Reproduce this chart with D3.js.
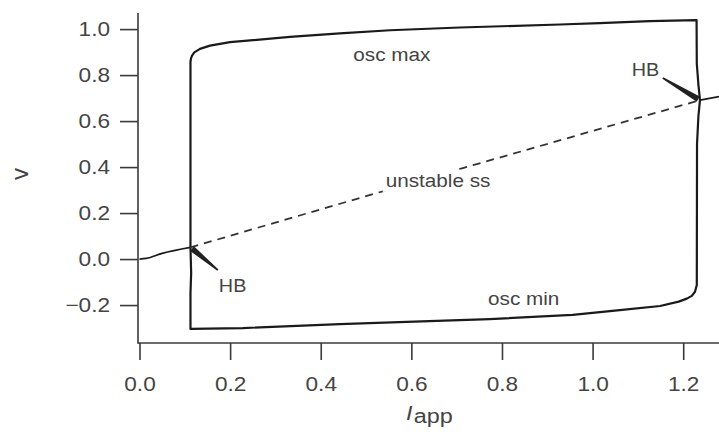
<!DOCTYPE html>
<html>
<head>
<meta charset="utf-8">
<script src="https://cdn.jsdelivr.net/npm/d3@7"></script>
<style>
  html, body { margin: 0; padding: 0; background: #fff; }
  svg { display: block; }
  text { font-family: "Liberation Sans", Arial, Helvetica, sans-serif; }
</style>
</head>
<body>
<svg id="chart" width="719" height="432"></svg>
<script>
// ---- data ----
const xTicks = [0.0, 0.2, 0.4, 0.6, 0.8, 1.0, 1.2];
const yTicks = [-0.2, 0.0, 0.2, 0.4, 0.6, 0.8, 1.0];

// osc max branch: left HB -> up -> across top -> down to right HB
const oscMaxI = [0.1125, 0.1125, 0.1125, 0.1135, 0.116, 0.121, 0.1335, 0.1556, 0.1997, 0.332, 0.442, 0.553, 0.707, 0.928, 1.016, 1.126, 1.2295, 1.2300, 1.2335, 1.237];
const oscMaxV = [0.051, 0.5, 0.857, 0.872, 0.885, 0.899, 0.914, 0.928, 0.943, 0.966, 0.981, 0.995, 1.007, 1.020, 1.026, 1.035, 1.039, 0.85, 0.76, 0.691];

// osc min branch: left HB -> down -> across bottom -> up to right HB
const oscMinI = [0.1125, 0.1140, 0.1125, 0.1125, 0.228, 0.442, 0.59, 0.773, 0.956, 1.06, 1.149, 1.190, 1.208, 1.219, 1.226, 1.230, 1.2305, 1.2335, 1.237];
const oscMinV = [0.051, -0.06, -0.15, -0.304, -0.300, -0.283, -0.273, -0.261, -0.243, -0.222, -0.204, -0.185, -0.172, -0.160, -0.142, -0.113, 0.5, 0.62, 0.691];

// stable steady state (solid) and unstable steady state (dashed)
const stableLeftI = [0.0, 0.015, 0.05, 0.1125];
const stableLeftV = [0.0, 0.003, 0.025, 0.051];
const unstableI = [0.1125, 0.52, 0.736, 1.237];
const unstableV = [0.051, 0.285, 0.408, 0.691];
const stableRightI = [1.237, 1.279];
const stableRightV = [0.691, 0.706];

// Hopf bifurcation points and their pointer tails
const hbI = [0.1125, 1.237];
const hbV = [0.051, 0.691];
const hbTailI = [0.173, 1.155];
const hbTailV = [-0.048, 0.787];
const hbLabels = ["HB", "HB"];

// text annotations
const noteText = ["osc max", "unstable ss", "osc min"];
const noteI = [0.557, 0.659, 0.848];
const noteV = [0.861, 0.314, -0.200];

// ---- layout ----
const svg = d3.select("#chart");
const x = d3.scaleLinear().domain([0, 1.279]).range([139.5, 719]);
const y = d3.scaleLinear().domain([-0.365, 1.07]).range([343, 13]);

const axisColor = "#3a3a3a";
const textColor = "#444";
const lineColor = "#1a1a1a";

// horizontal stretch of text (the reference lettering is slightly wide)
function stretch(sel, k) {
  sel.each(function () {
    const w = this.getComputedTextLength();
    d3.select(this).attr("textLength", w * k).attr("lengthAdjust", "spacingAndGlyphs");
  });
}

// axes lines
svg.append("line").attr("x1", x(0) - 1.5).attr("x2", 719).attr("y1", y(-0.365)).attr("y2", y(-0.365))
  .attr("stroke", axisColor).attr("stroke-width", 1.6);
svg.append("line").attr("x1", x(0) - 1.5).attr("x2", x(0) - 1.5).attr("y1", y(1.07)).attr("y2", y(-0.365) + 0.8)
  .attr("stroke", axisColor).attr("stroke-width", 1.6);

// x axis
const xAxis = d3.axisBottom(x).tickValues(xTicks).tickSize(17).tickSizeOuter(0).tickPadding(17)
  .tickFormat(d3.format(".1f"));
const gx = svg.append("g").attr("transform", `translate(0,${y(-0.365)})`).call(xAxis);
gx.select(".domain").remove();
gx.selectAll(".tick line").attr("stroke", axisColor).attr("stroke-width", 1.6);
gx.selectAll(".tick text").attr("fill", textColor).style("font-size", "20px").call(stretch, 1.13);

// y axis
const yAxis = d3.axisLeft(y).tickValues(yTicks).tickSize(18).tickSizeOuter(0).tickPadding(10)
  .tickFormat(d => d3.format(".1f")(d).replace("-", "\u2212"));
const gy = svg.append("g").attr("transform", `translate(${x(0) - 1.5},0)`).call(yAxis);
gy.select(".domain").remove();
gy.selectAll(".tick line").attr("stroke", axisColor).attr("stroke-width", 1.6);
gy.selectAll(".tick text").attr("fill", textColor).style("font-size", "20px").call(stretch, 1.13);

// axis titles
const xt = svg.append("text").attr("x", 406).attr("y", 420).attr("fill", textColor).style("font-size", "20px");
xt.append("tspan").text("I").style("font-style", "italic");
xt.append("tspan").text("app").attr("dy", 2.5).attr("dx", 1);
xt.call(stretch, 1.2);
svg.append("text").attr("transform", "translate(28,174) rotate(-90)").attr("text-anchor", "middle")
  .attr("fill", textColor).style("font-size", "24px").text("v");

// curves
const line = d3.line().x(d => x(d[0])).y(d => y(d[1]));
const zip = (a, b) => a.map((v, i) => [v, b[i]]);

svg.append("path").datum(zip(oscMaxI, oscMaxV)).attr("d", line)
  .attr("fill", "none").attr("stroke", lineColor).attr("stroke-width", 2.2).attr("stroke-linejoin", "round");
svg.append("path").datum(zip(oscMinI, oscMinV)).attr("d", line)
  .attr("fill", "none").attr("stroke", lineColor).attr("stroke-width", 2.2).attr("stroke-linejoin", "round");
svg.append("path").datum(zip(stableLeftI, stableLeftV))
  .attr("d", d3.line().x(d => x(d[0])).y(d => y(d[1])).curve(d3.curveMonotoneX))
  .attr("fill", "none").attr("stroke", lineColor).attr("stroke-width", 1.8);
svg.append("path").datum(zip(stableRightI, stableRightV)).attr("d", line)
  .attr("fill", "none").attr("stroke", lineColor).attr("stroke-width", 1.8);
svg.append("path").datum(zip(unstableI, unstableV)).attr("d", line)
  .attr("fill", "none").attr("stroke", "#333").attr("stroke-width", 1.8).attr("stroke-dasharray", "8,6");

// HB pointers (tapering wedges)
hbI.forEach((hi, i) => {
  const px = x(hi), py = y(hbV[i]);
  const tx = x(hbTailI[i]), ty = y(hbTailV[i]);
  const dx = px - tx, dy = py - ty, L = Math.hypot(dx, dy);
  const nx = -dy / L, ny = dx / L;
  const sx = px - dx / L * 2, sy = py - dy / L * 2;
  const wThick = 3.0, wThin = 0.9;
  const pts = [
    [tx + nx * wThin, ty + ny * wThin],
    [sx + nx * wThick, sy + ny * wThick],
    [sx - nx * wThick, sy - ny * wThick],
    [tx - nx * wThin, ty - ny * wThin]
  ];
  svg.append("path").attr("d", "M" + pts.map(p => p.join(",")).join("L") + "Z").attr("fill", "#222");
});

// HB labels
svg.append("text").attr("x", x(hbTailI[0]) + 1).attr("y", y(hbTailV[0]) + 22)
  .attr("fill", textColor).style("font-size", "18px").text(hbLabels[0]).call(stretch, 1.1);
svg.append("text").attr("x", x(hbTailI[1]) - 31).attr("y", y(hbTailV[1]) - 2)
  .attr("fill", textColor).style("font-size", "18px").text(hbLabels[1]).call(stretch, 1.1);

// annotations (with a white backing so the dashed line is hidden under the label)
noteText.forEach((t, i) => {
  const g = svg.append("g");
  const bg = g.append("rect").attr("fill", "#fff");
  const tx = g.append("text").attr("x", x(noteI[i])).attr("y", y(noteV[i])).attr("text-anchor", "middle")
    .attr("fill", textColor).style("font-size", "18px").text(t).call(stretch, 1.15);
  const b = tx.node().getBBox();
  bg.attr("x", b.x - 3).attr("y", b.y - 1).attr("width", b.width + 6).attr("height", b.height + 2);
});
</script>
</body>
</html>
